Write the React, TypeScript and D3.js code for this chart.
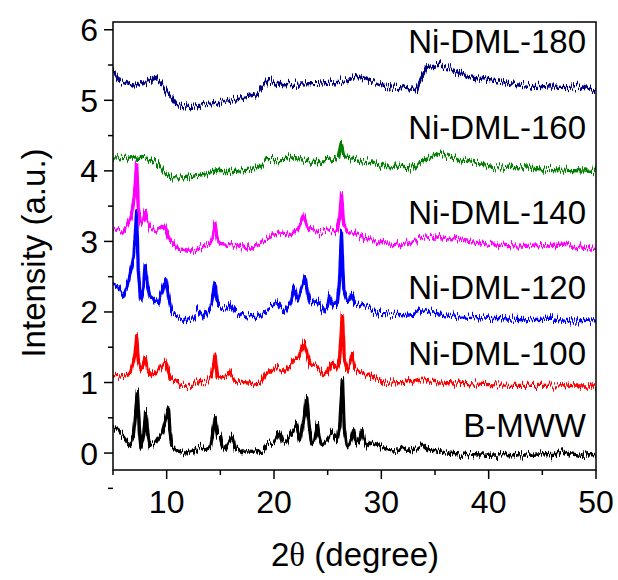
import React from "react";
import * as d3 from "d3";

const xTicksMajor = [10, 20, 30, 40, 50];
const xTicksMinor = [5, 15, 25, 35, 45];
const yTicksMajor = [0, 1, 2, 3, 4, 5, 6];
const yTicksMinor = [-0.5, 0.5, 1.5, 2.5, 3.5, 4.5, 5.5];

const seriesNames = ["B-MWW", "Ni-DML-100", "Ni-DML-120", "Ni-DML-140", "Ni-DML-160", "Ni-DML-180"];
const seriesColors = ["#000000", "#ff0000", "#0000ff", "#ff00ff", "#008000", "#000080"];
const labelBaselines = [0.23, 1.25, 2.19, 3.24, 4.45, 5.67];

const bMWW: [number, number][] = [
  [5.0, 0.37], [5.5, 0.33], [6.0, 0.22], [6.4, 0.14], [6.6, 0.11], [6.9, 0.25], [7.1, 0.55], [7.27, 0.87], [7.45, 0.35], [7.6, 0.07],
  [7.85, 0.25], [8.05, 0.59], [8.25, 0.25], [8.45, 0.11], [9.0, 0.15], [9.6, 0.3], [9.95, 0.5], [10.15, 0.64], [10.3, 0.35], [10.47, 0.11],
  [11.0, 0.03], [11.8, 0.0], [12.5, 0.03], [13.1, 0.08], [13.6, 0.04], [14.1, 0.12], [14.5, 0.5], [14.75, 0.25], [14.97, 0.26], [15.2, 0.1],
  [15.5, 0.07], [15.9, 0.16], [16.15, 0.24], [16.4, 0.08], [17.0, 0.02], [18.0, 0.01], [19.0, 0.03], [19.3, 0.13], [20.0, 0.15], [20.5, 0.3],
  [20.8, 0.15], [21.1, 0.14], [21.5, 0.25], [21.8, 0.33], [22.1, 0.4], [22.4, 0.16], [22.75, 0.45], [23.05, 0.8], [23.3, 0.35], [23.5, 0.13],
  [23.8, 0.2], [24.04, 0.42], [24.25, 0.2], [24.45, 0.11], [25.0, 0.2], [25.4, 0.3], [25.85, 0.18], [26.15, 0.4], [26.37, 1.06], [26.55, 0.35],
  [26.8, 0.09], [27.1, 0.15], [27.4, 0.33], [27.7, 0.13], [28.0, 0.2], [28.2, 0.33], [28.45, 0.15], [28.6, 0.09], [29.0, 0.14], [29.6, 0.11],
  [30.5, 0.05], [31.7, 0.04], [32.0, 0.07], [32.5, 0.04], [33.3, 0.06], [33.8, 0.11], [34.3, 0.05], [34.8, 0.04], [36.1, 0.0], [38, -0.02],
  [40, -0.03], [42, -0.02], [44, -0.03], [46, -0.02], [46.9, 0.03], [47.5, -0.01], [48.5, -0.03], [50, -0.02],
];

const niDML100: [number, number][] = [
  [5.0, 1.08], [6.0, 1.1], [6.6, 1.13], [6.9, 1.27], [7.05, 1.4], [7.2, 1.65], [7.35, 1.3], [7.6, 1.18], [7.8, 1.22], [8.0, 1.35],
  [8.2, 1.2], [8.5, 1.11], [9.0, 1.14], [9.5, 1.22], [9.85, 1.31], [10.05, 1.2], [10.3, 1.08], [10.8, 1.0], [11.5, 0.96], [12.3, 0.96],
  [12.95, 1.05], [13.3, 1.0], [13.7, 1.0], [14.2, 1.1], [14.5, 1.39], [14.7, 1.1], [14.9, 1.06], [15.5, 1.08], [15.9, 1.15], [16.3, 1.02],
  [17, 1.0], [18, 0.99], [18.8, 1.01], [19.3, 1.15], [19.8, 1.15], [20.25, 1.2], [21.0, 1.15], [21.8, 1.3], [22.3, 1.35], [22.8, 1.58],
  [23.1, 1.4], [23.36, 1.27], [24.0, 1.22], [24.6, 1.11], [25.0, 1.15], [25.4, 1.27], [25.8, 1.18], [26.1, 1.3], [26.37, 1.98], [26.55, 1.35],
  [26.8, 1.18], [27.05, 1.25], [27.25, 1.41], [27.5, 1.2], [27.9, 1.15], [28.6, 1.11], [29.0, 1.12], [30.5, 0.99], [32.0, 1.0], [33.0, 1.02],
  [33.8, 1.06], [34.5, 1.02], [36, 1.0], [37.3, 0.99], [40, 0.97], [42, 0.96], [45, 0.96], [47, 0.97], [48, 0.95], [50, 0.95],
];

const niDML120: [number, number][] = [
  [5.0, 2.38], [5.5, 2.35], [5.96, 2.22], [6.3, 2.35], [6.6, 2.55], [6.9, 2.78], [7.05, 3.0], [7.2, 3.42], [7.35, 2.6], [7.6, 2.17],
  [7.85, 2.35], [8.0, 2.67], [8.2, 2.4], [8.45, 2.22], [9.2, 2.13], [9.6, 2.3], [9.93, 2.47], [10.2, 2.2], [10.47, 2.0], [11.0, 1.92],
  [11.8, 1.89], [12.5, 1.92], [12.95, 2.03], [13.4, 1.92], [13.9, 2.02], [14.2, 2.15], [14.5, 2.41], [14.7, 2.15], [14.9, 2.08], [15.5, 2.06],
  [15.97, 2.1], [16.4, 1.99], [17.5, 1.93], [18.5, 1.94], [19.3, 2.03], [20.4, 2.13], [21.0, 2.0], [21.6, 2.15], [21.9, 2.34], [22.2, 2.17],
  [22.5, 2.3], [22.9, 2.5], [23.1, 2.3], [23.36, 2.13], [24.0, 2.15], [24.6, 2.0], [25.0, 2.1], [25.2, 2.24], [25.5, 2.1], [25.9, 2.13],
  [26.1, 2.4], [26.28, 3.12], [26.5, 2.3], [26.8, 2.15], [27.05, 2.18], [27.25, 2.26], [27.5, 2.12], [28.0, 2.1], [28.6, 2.08], [29.9, 1.98],
  [31, 1.97], [32.0, 1.96], [33.0, 1.98], [33.8, 2.03], [35, 1.98], [37.3, 1.93], [40, 1.91], [43.5, 1.89], [46, 1.9], [47.9, 1.87], [50, 1.89],
];

const niDML140: [number, number][] = [
  [5.0, 3.19], [5.96, 3.14], [6.6, 3.3], [6.9, 3.54], [7.05, 3.75], [7.2, 4.13], [7.35, 3.5], [7.6, 3.23], [7.85, 3.3], [8.0, 3.45],
  [8.2, 3.3], [8.45, 3.19], [9.2, 3.16], [9.85, 3.23], [10.3, 3.02], [11.2, 2.88], [12.1, 2.86], [13.0, 2.9], [14.0, 2.95], [14.3, 3.05],
  [14.5, 3.26], [14.7, 3.05], [15.0, 2.97], [16.2, 2.95], [17.8, 2.9], [19.3, 3.04], [20.6, 3.12], [21.5, 3.1], [22.3, 3.19], [22.8, 3.36],
  [23.1, 3.22], [23.36, 3.16], [24.3, 3.12], [25.2, 3.16], [25.8, 3.14], [26.1, 3.3], [26.3, 3.68], [26.5, 3.25], [26.8, 3.16], [27.5, 3.12],
  [28.6, 3.04], [29.9, 2.97], [31.7, 2.95], [33.6, 3.04], [35.5, 3.07], [37.3, 3.02], [40.4, 2.95], [43.5, 2.93], [46.7, 2.95], [50, 2.9],
];

const niDML160: [number, number][] = [
  [5.0, 4.18], [6.9, 4.2], [8.1, 4.18], [8.9, 4.13], [9.85, 3.97], [10.5, 3.9], [11.55, 3.9], [13.1, 3.94], [14.7, 3.99], [16.2, 3.99],
  [17.8, 4.01], [18.7, 4.06], [19.3, 4.16], [20.9, 4.16], [21.8, 4.2], [22.4, 4.16], [24.0, 4.13], [25.5, 4.16], [26.0, 4.2], [26.25, 4.39],
  [26.5, 4.2], [26.8, 4.18], [28.6, 4.13], [30.5, 4.06], [33.0, 4.04], [33.9, 4.16], [35.5, 4.25], [37.3, 4.16], [40.4, 4.06], [43.5, 4.04],
  [46.7, 4.01], [50, 3.99],
];

const niDML180: [number, number][] = [
  [5.0, 5.43], [5.65, 5.27], [6.9, 5.2], [8.45, 5.29], [8.76, 5.34], [9.4, 5.27], [10.0, 5.13], [10.9, 4.94], [12.2, 4.91], [14.7, 4.96],
  [16.8, 5.03], [18.4, 5.08], [19.0, 5.2], [19.6, 5.29], [20.9, 5.22], [24.0, 5.24], [26.2, 5.27], [28.0, 5.34], [30.2, 5.2], [31.7, 5.18],
  [33.3, 5.15], [33.6, 5.29], [34.2, 5.46], [35.5, 5.5], [36.7, 5.43], [38.0, 5.34], [41.1, 5.27], [44.2, 5.2], [47.3, 5.18], [48.5, 5.2],
  [50, 5.13],
];

const allSeries = [bMWW, niDML100, niDML120, niDML140, niDML160, niDML180];

const W = 618;
const H = 580;
const FONT = "'Liberation Sans', Arial, sans-serif";

export default function App() {
  const x = d3.scaleLinear().domain([5, 50]).range([113, 596]);
  const y = d3.scaleLinear().domain([-0.24, 6.11]).range([470, 22]);
  const line = d3
    .line<[number, number]>()
    .x((d) => x(d[0]))
    .y((d) => y(d[1]))
    .curve(d3.curveLinear);

  const [x0, x1] = x.range();
  const [yb, yt] = y.range();

  return (
    <svg width={W} height={H} style={{ position: "absolute", left: 0, top: 0, background: "#fff" }}>
      <defs>
        <filter id="noise" x="-5%" y="-30%" width="110%" height="160%" filterUnits="objectBoundingBox">
          <feTurbulence type="fractalNoise" baseFrequency="1.4 0.04" numOctaves={2} seed={7} result="t" />
          <feColorMatrix
            in="t"
            type="matrix"
            values="0 0 0 0 0.5  0 1.6 0 0 -0.3  0 0 1 0 0  0 0 0 0 1"
            result="tv"
          />
          <feDisplacementMap in="SourceGraphic" in2="tv" scale={9} xChannelSelector="R" yChannelSelector="G" />
        </filter>
        <clipPath id="plotclip">
          <rect x={x0} y={yt} width={x1 - x0} height={yb - yt} />
        </clipPath>
      </defs>
      <rect x={0} y={0} width={W} height={H} fill="#fff" />
      <g clipPath="url(#plotclip)">
        {allSeries.map((s, i) => (
          <path
            key={i}
            d={line(s) || ""}
            fill="none"
            stroke={seriesColors[i]}
            strokeWidth={3.4}
            strokeLinejoin="round"
            filter="url(#noise)"
          />
        ))}
      </g>
      <rect x={x0} y={yt} width={x1 - x0} height={yb - yt} fill="none" stroke="#000" strokeWidth={1.5} />
      {xTicksMajor.map((t) => (
        <g key={"xm" + t}>
          <line x1={x(t)} x2={x(t)} y1={yb} y2={yb + 9} stroke="#000" strokeWidth={1.5} />
          <text x={x(t)} y={yb + 43} textAnchor="middle" fontFamily={FONT} fontSize={32} fill="#000">
            {t}
          </text>
        </g>
      ))}
      {xTicksMinor.map((t) => (
        <line key={"xn" + t} x1={x(t)} x2={x(t)} y1={yb} y2={yb + 5} stroke="#000" strokeWidth={1.5} />
      ))}
      {yTicksMajor.map((t) => (
        <g key={"ym" + t}>
          <line x1={x0} x2={x0 - 9} y1={y(t)} y2={y(t)} stroke="#000" strokeWidth={1.5} />
          <text x={x0 - 15} y={y(t) + 11.5} textAnchor="end" fontFamily={FONT} fontSize={32} fill="#000">
            {t}
          </text>
        </g>
      ))}
      {yTicksMinor.map((t) => (
        <line key={"yn" + t} x1={x0} x2={x0 - 5} y1={y(t)} y2={y(t)} stroke="#000" strokeWidth={1.5} />
      ))}
      <text x={355} y={566} textAnchor="middle" fontFamily={FONT} fontSize={33} fill="#000">
        2<tspan fontFamily="'Liberation Serif', 'DejaVu Serif', serif">θ</tspan> (degree)
      </text>
      <text
        transform={`translate(45, 253) rotate(-90)`}
        textAnchor="middle"
        fontFamily={FONT}
        fontSize={33}
        fill="#000"
      >
        Intensity (a.u.)
      </text>
      {seriesNames.map((n, i) => (
        <text key={n} x={586} y={y(labelBaselines[i])} textAnchor="end" fontFamily={FONT} fontSize={33} fill="#000">
          {n}
        </text>
      ))}
    </svg>
  );
}
